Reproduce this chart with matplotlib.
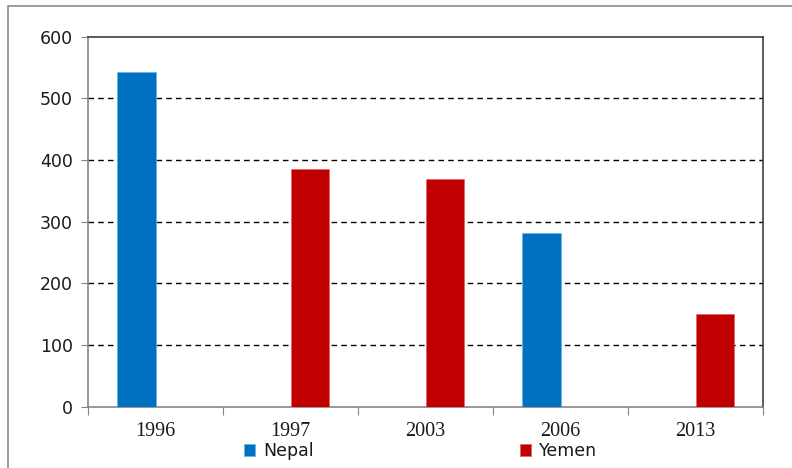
import matplotlib
matplotlib.use("Agg")
import matplotlib.pyplot as plt
from matplotlib.patches import Rectangle
import numpy as np

years = ["1996", "1997", "2003", "2006", "2013"]
nepal = [543, 0, 0, 282, 0]
yemen = [0, 386, 370, 0, 150]
y_ticks = [0, 100, 200, 300, 400, 500, 600]
series_names = ["Nepal", "Yemen"]

W, H = 792, 468
fig = plt.figure(figsize=(W / 100, H / 100), dpi=100)
fig.patch.set_facecolor("white")

# plot area in pixel coordinates
left, right, top, bottom = 88, 763, 36.7, 406.7
ax = fig.add_axes([left / W, 1 - bottom / H, (right - left) / W, (bottom - top) / H])

x = np.arange(len(years))
bw = 1 / 3.5
b1 = ax.bar(x - bw / 2, nepal, width=bw, color="#0070C0", edgecolor="#5BB4F0",
            linewidth=0.4, zorder=3)
b2 = ax.bar(x + bw / 2, yemen, width=bw, color="#C00000", edgecolor="#E06060",
            linewidth=0.4, zorder=3)

ax.set_xlim(-0.5, len(years) - 0.5)
ax.set_ylim(0, 600)

# dashed gridlines
for v in y_ticks[1:-1]:
    ax.axhline(v, color="#000000", linestyle=(0, (4, 3)), linewidth=1.0, zorder=1)

ax.set_yticks(y_ticks)
ax.set_yticklabels([str(v) for v in y_ticks], fontfamily="DejaVu Sans", fontsize=12.5,
                   color="#1a1a1a")
ax.tick_params(axis="y", direction="out", length=5, color="#868686", pad=6)

ax.set_xticks(np.arange(len(years) + 1) - 0.5)
ax.set_xticklabels([])
ax.tick_params(axis="x", direction="out", length=6, color="#868686")
for i, yr in enumerate(years):
    ax.text(i, 1 - 431 / H, yr, transform=ax.get_xaxis_transform(), ha="center",
            va="center", fontfamily="Liberation Serif", fontsize=14.5, color="#1a1a1a")

# fix the year-label transform: y in figure coordinates
for t in ax.texts:
    t.set_transform(matplotlib.transforms.blended_transform_factory(ax.transData,
                                                                    fig.transFigure))

ax.spines["left"].set_color("#868686")
ax.spines["bottom"].set_color("#868686")
ax.spines["top"].set_color("#404040")
ax.spines["right"].set_color("#404040")
for s in ax.spines.values():
    s.set_linewidth(1.2)

# legend entries
for handle, name, xpos in [(b1[0], series_names[0], 244), (b2[0], series_names[1], 520)]:
    lg = fig.legend([handle], [name], loc="center left",
                    bbox_to_anchor=(xpos / W, 1 - 451 / H), frameon=False,
                    borderpad=0, borderaxespad=0, handlelength=0.64, handleheight=0.64,
                    handletextpad=0.45,
                    prop={"family": "DejaVu Sans", "size": 12.5})
    for t in lg.get_texts():
        t.set_color("#1a1a1a")

# outer chart border
fig.add_artist(Rectangle((8 / W, -0.1), 1.2, 1 - 6 / H + 0.1, transform=fig.transFigure,
                         fill=False, edgecolor="#8C8C8C", linewidth=1.2))

fig.savefig("out.png", dpi=100, facecolor="white")
